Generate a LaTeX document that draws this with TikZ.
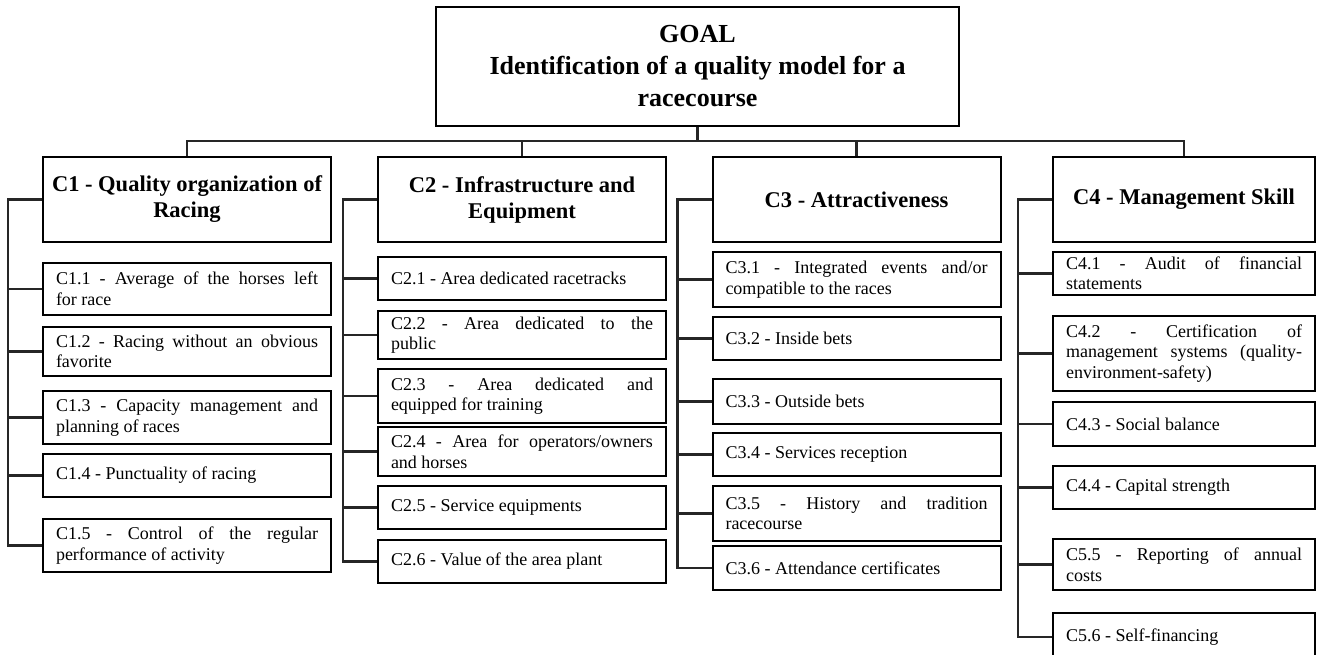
\documentclass[tikz,border=0pt]{standalone}
\usepackage{fontspec}
\setmainfont{Liberation Serif}

\begin{document}
\begin{tikzpicture}[
    x=1pt, y=-1pt,
    goalbox/.style={rectangle, draw, line width=2pt, minimum width=523pt, minimum height=119pt, align=center, font=\fontsize{26}{32}\selectfont\bfseries},
    head/.style={rectangle, draw, line width=2pt, minimum width=#1, minimum height=85pt, align=center, font=\fontsize{22.5}{26}\selectfont\bfseries},
    head/.default=288pt,
    sub/.style={rectangle, draw, line width=2pt, text width=#1, inner xsep=13pt, inner ysep=2pt, align=justify, font=\fontsize{18}{20.5}\selectfont},
    sub/.default=262pt,
    link/.style={line width=2.2pt, black!85},
]
\useasboundingbox (0,0) rectangle (1318,655);

% Goal and criteria
\node[goalbox] (goal) at (697.5,66.5) {GOAL\\Identification of a quality model for a\\racecourse};
\node[head] (c1) at (187,199.5) {C1 - Quality organization of\\Racing};
\node[head] (c2) at (522,199.5) {C2 - Infrastructure and\\Equipment};
\node[head] (c3) at (856.5,199.5) {C3 - Attractiveness};
\node[head=262pt] (c4) at (1184,199.5) {C4 - Management Skill};

% Bus from goal to criteria
\coordinate (bus) at (697.5,141);
\draw[link] (goal.south) -- (bus);
\draw[link] (c1.north) |- (bus) -| (c4.north);
\draw[link] (c2.north) -- (c2.north |- bus);
\draw[link] (c3.north) -- (c3.north |- bus);

% C1 sub-criteria
\foreach \id/\y/\h/\txt in {
    c11/289/52/{C1.1 - Average of the horses left\linebreak for race},
    c12/351.5/49/{C1.2 - Racing without an obvious\linebreak favorite},
    c13/417.5/53/{C1.3 - Capacity management and\linebreak planning of races},
    c14/475.5/43/{C1.4 - Punctuality of racing},
    c15/545.5/53/{C1.5 - Control of the regular\linebreak performance of activity}%
} {
    \node[sub, minimum height=\h pt] (\id) at (187,\y) {\txt};
    \draw[link] (\id.west) -- ++(-34,0);
}
\draw[link] (c1.west) -- ++(-34,0) |- (c15.west);

% C2 sub-criteria
\foreach \id/\y/\h/\txt in {
    c21/278.5/43/{C2.1 - Area dedicated racetracks},
    c22/335/48/{C2.2 - Area dedicated to the\linebreak public},
    c23/396/54/{C2.3 - Area dedicated and\linebreak equipped for training},
    c24/451.5/49/{C2.4 - Area for operators/owners\linebreak and horses},
    c25/507.5/43/{C2.5 - Service equipments},
    c26/561.5/43/{C2.6 - Value of the area plant}%
} {
    \node[sub, minimum height=\h pt] (\id) at (522,\y) {\txt};
    \draw[link] (\id.west) -- ++(-34,0);
}
\draw[link] (c2.west) -- ++(-34,0) |- (c26.west);

% C3 sub-criteria
\foreach \id/\y/\h/\txt in {
    c31/279.5/55/{C3.1 - Integrated events and/or\linebreak compatible to the races},
    c32/338.5/43/{C3.2 - Inside bets},
    c33/401.5/45/{C3.3 - Outside bets},
    c34/454.5/43/{C3.4 - Services reception},
    c35/513.5/55/{C3.5 - History and tradition\linebreak racecourse},
    c36/568/44/{C3.6 - Attendance certificates}%
} {
    \node[sub, minimum height=\h pt] (\id) at (856.5,\y) {\txt};
    \draw[link] (\id.west) -- ++(-34,0);
}
\draw[link] (c3.west) -- ++(-34,0) |- (c36.west);

% C4 sub-criteria
\foreach \id/\y/\h/\txt in {
    c41/273.5/43/{C4.1 - Audit of financial\linebreak statements},
    c42/353.5/75/{C4.2 - Certification of\linebreak management systems (quality-\linebreak environment-safety)},
    c43/424/44/{C4.3 - Social balance},
    c44/487.5/43/{C4.4 - Capital strength},
    c45/564.5/51/{C5.5 - Reporting of annual\linebreak costs},
    c46/637/48/{C5.6 - Self-financing}%
} {
    \node[sub=236pt, minimum height=\h pt] (\id) at (1184,\y) {\txt};
    \draw[link] (\id.west) -- ++(-34,0);
}
\draw[link] (c4.west) -- ++(-34,0) |- (c46.west);

\end{tikzpicture}
\end{document}
